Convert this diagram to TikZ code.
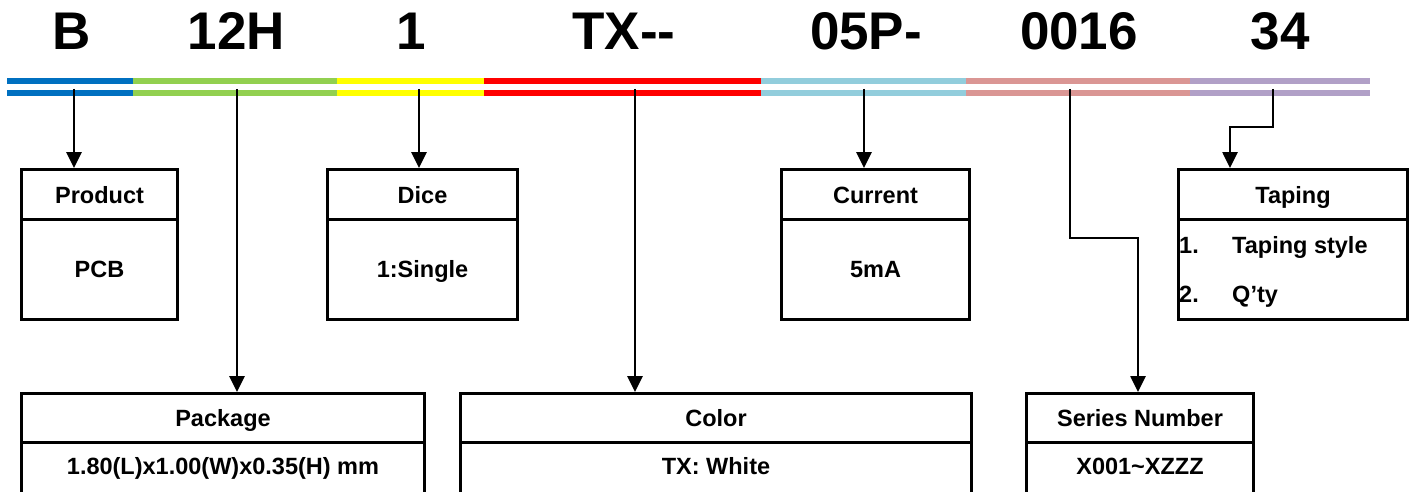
\documentclass[tikz,border=0pt]{standalone}
\usepackage{fontspec}
\setmainfont{Liberation Sans}
\usetikzlibrary{arrows.meta}
\definecolor{cBlue}{HTML}{0070C0}
\definecolor{cGreen}{HTML}{92D050}
\definecolor{cYellow}{HTML}{FFFF00}
\definecolor{cRed}{HTML}{FF0000}
\definecolor{cCyan}{HTML}{92CDDC}
\definecolor{cPink}{HTML}{DA9694}
\definecolor{cPurple}{HTML}{B1A0C7}
\begin{document}
\begin{tikzpicture}[x=1pt,y=-1pt,
  conn/.style={line width=2.7pt, -{Triangle[length=16pt,width=15pt]}},
  box/.style={draw, line width=3pt, rectangle, inner sep=0pt, anchor=north west, minimum height=150pt},
  divline/.style={line width=3pt},
  lbl/.style={font=\fontsize{23.5}{28}\selectfont\bfseries, inner sep=0pt, anchor=base},
  lbll/.style={font=\fontsize{23.5}{28}\selectfont\bfseries, inner sep=0pt, anchor=base west},
  code/.style={font=\fontsize{53}{60}\selectfont\bfseries, inner sep=0pt, anchor=base}]
\clip (0,0) rectangle (1410,492);
% code text
\node[code] (tB) at (72,50) {B};
\node[code] (t12H) at (236.5,50) {12H};
\node[code] (t1) at (411,50) {1};
\node[code] (tTX) at (624,50) {TX-\kern0pt-};
\node[code] (t05P) at (866,50) {05P-};
\node[code] (t0016) at (1079,50) {0016};
\node[code] (t34) at (1280,50) {34};
% colour bars
\foreach \ya/\yb in {78/84, 90/96} {
  \fill[cBlue] (7,\ya) rectangle (133,\yb);
  \fill[cGreen] (133,\ya) rectangle (337,\yb);
  \fill[cYellow] (337,\ya) rectangle (484,\yb);
  \fill[cRed] (484,\ya) rectangle (761,\yb);
  \fill[cCyan] (761,\ya) rectangle (966,\yb);
  \fill[cPink] (966,\ya) rectangle (1190,\yb);
  \fill[cPurple] (1190,\ya) rectangle (1370,\yb);
}
% boxes (top row)
\node[box, minimum width=156pt] (prod) at (20,168) {};
\node[box, minimum width=190pt] (dice) at (326,168) {};
\node[box, minimum width=188pt] (curr) at (780,168) {};
\node[box, minimum width=229pt] (tap) at (1177,168) {};
\foreach \b in {prod,dice,curr,tap} {
  \draw[divline] (\b.west |- 0,219) -- (\b.east |- 0,219);
}
% boxes (bottom row)
\node[box, minimum width=403pt] (pack) at (20,392) {};
\node[box, minimum width=511pt] (col) at (459,392) {};
\node[box, minimum width=227pt] (ser) at (1025,392) {};
\foreach \b in {pack,col,ser} {
  \draw[divline] (\b.west |- 0,442) -- (\b.east |- 0,442);
}
% labels
\node[lbl] (prodH) at (prod.north |- 0,203) {Product};
\node[lbl] (prodB) at (prod.north |- 0,277) {PCB};
\node[lbl] (diceH) at (dice.north |- 0,203) {Dice};
\node[lbl] (diceB) at (dice.north |- 0,277) {1:Single};
\node[lbl] (currH) at (curr.north |- 0,203) {Current};
\node[lbl] (currB) at (curr.north |- 0,277) {5mA};
\node[lbl] (tapH) at (tap.north |- 0,203) {Taping};
\node[lbll] (tapN1) at (1179,253) {1.};
\node[lbll] (tapT1) at (1232,253) {Taping style};
\node[lbll] (tapN2) at (1179,302) {2.};
\node[lbll] (tapT2) at (1232,302) {Q’ty};
\node[lbl] (packH) at (pack.north |- 0,426) {Package};
\node[lbl] (packB) at (pack.north |- 0,474) {1.80(L)x1.00(W)x0.35(H) mm};
\node[lbl] (colH) at (col.north |- 0,426) {Color};
\node[lbl] (colB) at (col.north |- 0,474) {TX: White};
\node[lbl] (serH) at (ser.north |- 0,426) {Series Number};
\node[lbl] (serB) at (ser.north |- 0,474) {X001\textasciitilde XZZZ};
% connector origins
\coordinate (pB) at (74,89);
\coordinate (p12H) at (237,89);
\coordinate (p1) at (419,89);
\coordinate (pTX) at (635,89);
\coordinate (p05P) at (864,89);
\coordinate (p0016) at (1070,89);
\coordinate (p34) at (1273,89);
\coordinate (serK) at (1138,238);
\coordinate (tapK) at (1230,127);
% connectors
\draw[conn] (pB) -- (pB |- prod.north);
\draw[conn] (p12H) -- (p12H |- pack.north);
\draw[conn] (p1) -- (p1 |- dice.north);
\draw[conn] (pTX) -- (pTX |- col.north);
\draw[conn] (p05P) -- (p05P |- curr.north);
\draw[conn] (p0016) |- (serK) -- (serK |- ser.north);
\draw[conn] (p34) |- (tapK) -- (tapK |- tap.north);
\end{tikzpicture}
\end{document}
